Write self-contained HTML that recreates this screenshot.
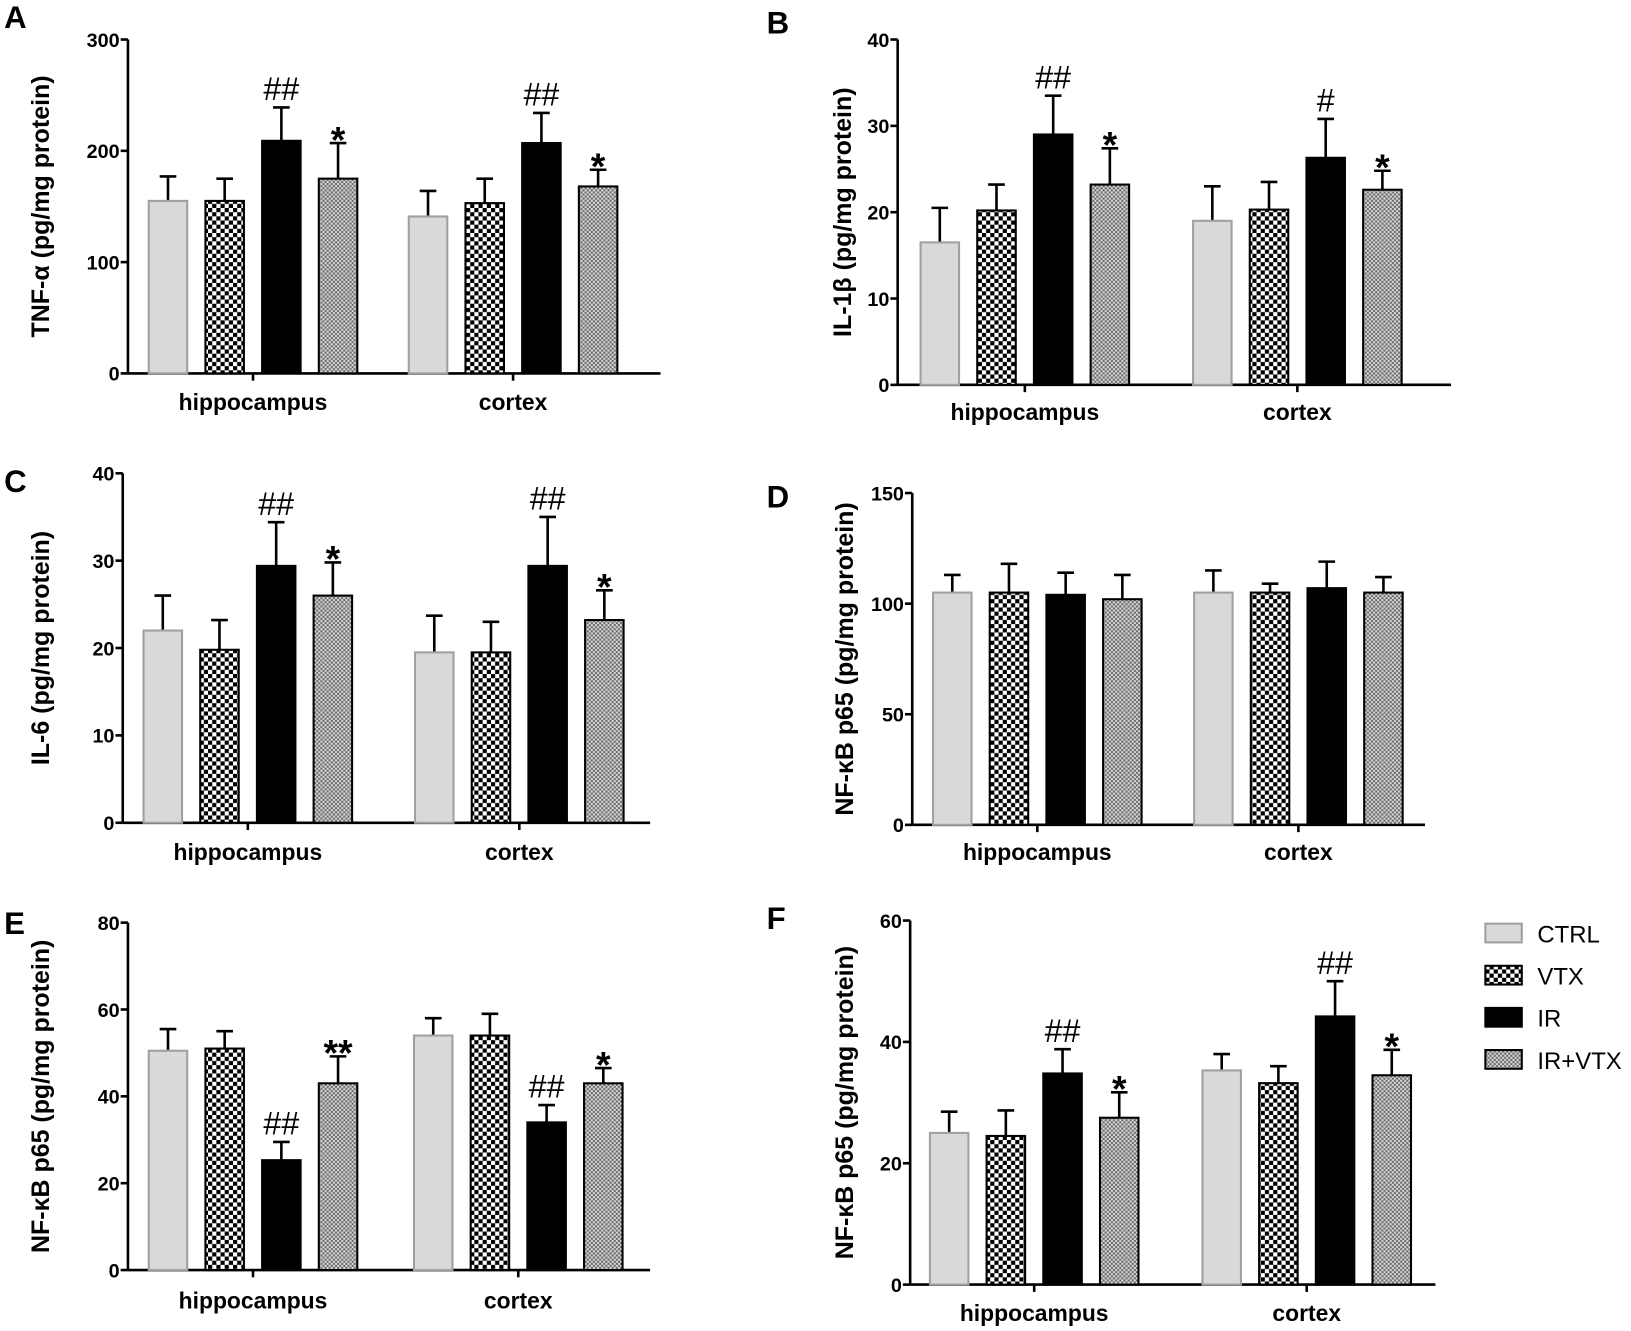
<!DOCTYPE html>
<html><head><meta charset="utf-8"><style>
html,body{margin:0;padding:0;background:#fff}
svg{display:block}
text{font-family:"Liberation Sans",sans-serif}
</style></head><body>
<svg id="fig" width="1631" height="1331" viewBox="0 0 1568 1279.6" preserveAspectRatio="none" xmlns="http://www.w3.org/2000/svg">
<defs>
<pattern id="checker" width="8" height="8" patternUnits="userSpaceOnUse">
<rect width="8" height="8" fill="#fff"/><rect width="4" height="4" fill="#000"/><rect x="4" y="4" width="4" height="4" fill="#000"/>
</pattern>
<pattern id="dots" width="4" height="4" patternUnits="userSpaceOnUse">
<rect width="4" height="4" fill="#6a6a6a"/><rect width="2" height="2" fill="#d8d8d8"/><rect x="2" y="2" width="2" height="2" fill="#d8d8d8"/>
</pattern>
</defs>
</svg>
<script>
const categories = ["hippocampus","cortex"];
const groups = ["CTRL","VTX","IR","IR+VTX"];

const aValues = [[155,155,209,175],[141,153,207,168]];
const aErrors = [[22,20,30,32],[23,22,27,15]];
const aMarks = [["","","##","*"],["","","##","*"]];
const aTicks = [0,100,200,300];

const bValues = [[16.5,20.2,29,23.2],[19,20.3,26.3,22.6]];
const bErrors = [[4,3,4.5,4.2],[4,3.2,4.5,2.2]];
const bMarks = [["","","##","*"],["","","#","*"]];
const bTicks = [0,10,20,30,40];

const cValues = [[22,19.8,29.4,26],[19.5,19.5,29.4,23.2]];
const cErrors = [[4,3.4,5,3.8],[4.2,3.5,5.6,3.4]];
const cMarks = [["","","##","*"],["","","##","*"]];
const cTicks = [0,10,20,30,40];

const dValues = [[105,105,104,102],[105,105,107,105]];
const dErrors = [[8,13,10,11],[10,4,12,7]];
const dMarks = [["","","",""],["","","",""]];
const dTicks = [0,50,100,150];

const eValues = [[50.5,51,25.3,43],[54,54,34,43]];
const eErrors = [[5,4,4.2,6.2],[4,5,4,3.5]];
const eMarks = [["","","##","**"],["","","##","*"]];
const eTicks = [0,20,40,60,80];

const fValues = [[25,24.5,34.8,27.5],[35.3,33.2,44.2,34.5]];
const fErrors = [[3.5,4.2,4,4.2],[2.7,2.8,5.8,4.2]];
const fMarks = [["","","##","*"],["","","##","*"]];
const fTicks = [0,20,40,60];

const NS="http://www.w3.org/2000/svg";
const svg=document.getElementById('fig');
function mk(tag,attrs,parent){const e=document.createElementNS(NS,tag);for(const k in attrs)e.setAttribute(k,attrs[k]);(parent||svg).appendChild(e);return e;}
const fills=["#d9d9d9","url(#checker)","#000","url(#dots)"];
const strokes=["#a0a0a0","#000","#000","#000"];

function panel(id,letter,lx,ly,ax,top,bot,xend,groupStart,labelY,ylabel,ylx,values,errors,marks,ticks){
  const g=mk('g',{});
  
  
  const max=ticks[ticks.length-1];
  const y=v=>bot-(v/max)*(bot-top);
  const L=mk('text',{x:lx,y:ly,'font-size':30,'font-weight':'bold'},g);L.textContent=letter;
  
  
  const yl=mk('line',{x1:ax,y1:top,x2:ax,y2:bot,stroke:'#000','stroke-width':2.5},g);
  
  
  const xl=mk('line',{x1:ax,y1:bot,x2:xend,y2:bot,stroke:'#000','stroke-width':2.5},g);
  
  
  ticks.forEach(t=>{
    mk('line',{x1:ax-7,y1:y(t),x2:ax,y2:y(t),stroke:'#000','stroke-width':2.5},g);
    const tt=mk('text',{x:ax-8,y:y(t)+7,'font-size':19,'font-weight':'bold','text-anchor':'end'},g);tt.textContent=t;
    
    
  });
  const yc=(top+bot)/2;
  const yt=mk('text',{x:ylx,y:yc,'font-size':24,'font-weight':'bold','text-anchor':'middle',transform:`rotate(-90 ${ylx} ${yc})`},g);yt.textContent=ylabel;
  
  
  categories.forEach((c,ci)=>{
    const x0=groupStart[ci];
    const bw=37,step=54.5;
    const cx=x0+1.5*step+bw/2;
    mk('line',{x1:cx,y1:bot,x2:cx,y2:bot+7,stroke:'#000','stroke-width':2.5},g);
    const ct=mk('text',{x:cx,y:labelY,'font-size':22,'font-weight':'bold','text-anchor':'middle'},g);ct.textContent=c;
    
    
    values[ci].forEach((v,gi)=>{
      const bx=x0+gi*step;const bc=bx+bw/2;
      const et=y(v+errors[ci][gi]);
      mk('line',{x1:bc,y1:y(v),x2:bc,y2:et,stroke:'#000','stroke-width':2.5},g);
      mk('line',{x1:bc-8,y1:et,x2:bc+8,y2:et,stroke:'#000','stroke-width':2.5},g);
      const r=mk('rect',{x:bx,y:y(v),width:bw,height:bot-y(v),fill:fills[gi],stroke:strokes[gi],'stroke-width':2},g);
      
      
      const m=marks[ci][gi];
      if(m){
        const isStar=m.indexOf('*')>=0;
        const mt=mk('text',{x:bc,y:et-(isStar?-9:7),'font-size':isStar?36:31,'text-anchor':'middle','font-weight':isStar?'bold':'normal'},g);mt.textContent=m;
        
        
      }
    });
  });
}
panel('a','A',4,27,123,38,359,635,[143,393],394,'TNF-α (pg/mg protein)',47,aValues,aErrors,aMarks,aTicks);
panel('b','B',737,32,863,38,370,1395,[885,1147],404,'IL-1β (pg/mg protein)',818,bValues,bErrors,bMarks,bTicks);
panel('c','C',4,473,118,455,791,625,[138,399],827,'IL-6 (pg/mg protein)',47,cValues,cErrors,cMarks,cTicks);
panel('d','D',737,488,877,474,793,1370,[897,1148],827,'NF-κB p65 (pg/mg protein)',820,dValues,dErrors,dMarks,dTicks);
panel('e','E',4,898,123,887,1221,625,[143,398],1258,'NF-κB p65 (pg/mg protein)',47,eValues,eErrors,eMarks,eTicks);
panel('f','F',737,893,875,885,1235,1380,[894,1156],1270,'NF-κB p65 (pg/mg protein)',820,fValues,fErrors,fMarks,fTicks);

const lg=mk('g',{});


groups.forEach((gname,i)=>{
  const yy=888+i*40.5;
  const r=mk('rect',{x:1428,y:yy,width:35,height:18,fill:fills[i],stroke:strokes[i],'stroke-width':2},lg);
  
  
  const t=mk('text',{x:1478,y:yy+18,'font-size':23},lg);t.textContent=gname;
  
  
});
</script>
</body></html>
